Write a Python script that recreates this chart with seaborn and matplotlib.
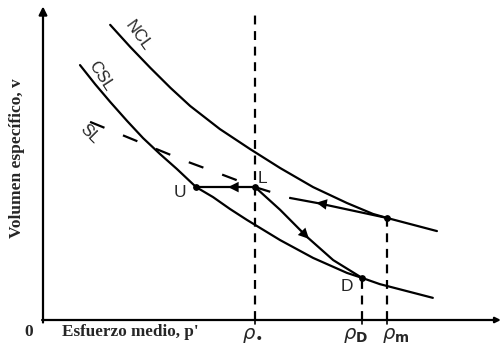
import matplotlib
matplotlib.use("Agg")
import matplotlib.pyplot as plt
import seaborn as sns

# Normal consolidation line (NCL)
ncl_p = [1.47, 1.91, 2.35, 2.79, 3.22, 3.87, 4.53, 5.19, 5.91, 6.65, 7.22, 7.53, 8.62]
ncl_v = [9.46, 8.75, 8.08, 7.44, 6.86, 6.12, 5.48, 4.87, 4.26, 3.75, 3.40, 3.27, 2.85]

# Critical state line (CSL)
csl_p = [0.81, 1.14, 1.47, 1.84, 2.19, 2.56, 2.93, 3.35, 3.72, 4.09, 4.46, 5.19, 5.91, 6.65, 6.98, 7.37, 8.53]
csl_v = [8.17, 7.56, 6.99, 6.38, 5.83, 5.32, 4.84, 4.26, 3.94, 3.56, 3.21, 2.56, 1.99, 1.51, 1.35, 1.15, 0.71]

# Swelling line (SL), dashed part
sl_p = [1.03, 1.73, 2.63, 3.11, 3.83, 4.64, 5.41]
sl_v = [6.35, 5.93, 5.39, 5.10, 4.71, 4.26, 3.91]

# Unloading path from the NCL back to L
unload_p = [5.41, 6.00, 7.53]
unload_v = [3.91, 3.75, 3.27]

# Drained path L -> D
ld_p = [4.64, 5.19, 5.78, 6.35, 6.98]
ld_v = [4.26, 3.53, 2.66, 1.92, 1.35]

# Undrained path L -> U
lu_p = [4.64, 3.35]
lu_v = [4.26, 4.26]

# Key states
p_o, p_D, p_m = 4.64, 6.98, 7.53
state_p = [3.35, 4.64, 6.98, 7.53]
state_v = [4.26, 4.26, 1.35, 3.27]

sns.set_theme(style="white")
plt.rcParams["font.family"] = ["Liberation Sans", "DejaVu Sans"]

fig = plt.figure(figsize=(5.02, 3.49), dpi=100)
ax = fig.add_axes([43 / 502, 1 - 320 / 349, 457 / 502, 312 / 349])
ax.set_xlim(0, 10)
ax.set_ylim(0, 10)
for s in ax.spines.values():
    s.set_visible(False)
ax.set_xticks([])
ax.set_yticks([])

lw = 1.6
kw = dict(sort=False, estimator=None, color="black", lw=lw, ax=ax, legend=False)
sns.lineplot(x=ncl_p, y=ncl_v, **kw)
sns.lineplot(x=csl_p, y=csl_v, **kw)
sns.lineplot(x=sl_p, y=sl_v, linestyle=(0, (7, 9)), **kw)
sns.lineplot(x=unload_p, y=unload_v, **kw)
sns.lineplot(x=ld_p, y=ld_v, **kw)
sns.lineplot(x=lu_p, y=lu_v, **kw)

# vertical dashed guides
for p, top in [(p_o, 9.95), (p_D, 1.35), (p_m, 3.27)]:
    sns.lineplot(x=[p, p], y=[0, top], sort=False, estimator=None, color="black",
                 lw=lw, linestyle=(0, (4, 3)), ax=ax, legend=False)

# state points
ax.scatter(state_p, state_v, s=15, color="black", zorder=5)


def head(x0, y0, x1, y1):
    ax.annotate("", xy=(x1, y1), xytext=(x0, y0),
                arrowprops=dict(arrowstyle="-|>", color="black", lw=0,
                                mutation_scale=19, shrinkA=0, shrinkB=0))


head(4.35, 4.26, 4.05, 4.26)
head(6.35, 3.67, 5.98, 3.76)
head(5.60, 2.93, 5.82, 2.60)

# axes with arrowheads
ax.annotate("", xy=(0, 10.05), xytext=(0, -0.08), annotation_clip=False,
            arrowprops=dict(arrowstyle="-|>", color="black", lw=1.6,
                            mutation_scale=12, shrinkA=0, shrinkB=0))
ax.annotate("", xy=(10.02, 0), xytext=(-0.02, 0), annotation_clip=False,
            arrowprops=dict(arrowstyle="-|>", color="black", lw=1.6,
                            mutation_scale=8, shrinkA=0, shrinkB=0))
for p in [p_o, p_D, p_m]:
    ax.plot([p, p], [-0.12, 0.12], color="black", lw=1.2, clip_on=False)

# curve labels
ax.text(2.08, 9.10, "NCL", rotation=-54, fontsize=12, ha="center", va="center")
ax.text(1.27, 7.82, "CSL", rotation=-57, fontsize=12, ha="center", va="center")
ax.text(1.01, 5.96, "SL", rotation=-45, fontsize=12, ha="center", va="center")
ax.text(3.00, 4.10, "U", fontsize=12.5, ha="center", va="center")
ax.text(4.81, 4.55, "L", fontsize=12.5, ha="center", va="center")
ax.text(6.65, 1.06, "D", fontsize=12.5, ha="center", va="center")

# axis labels
serif = ["Liberation Serif", "DejaVu Serif"]
ax.text(0.42, -0.40, "Esfuerzo medio, p'", family=serif, fontweight="bold",
        fontsize=12.3, ha="left", va="center", clip_on=False)
ax.text(-0.31, -0.40, "0", family=serif, fontweight="bold", fontsize=12.5,
        ha="center", va="center", clip_on=False)
ax.text(-0.57, 5.19, "Volumen específico, v", family=serif, fontweight="bold",
        fontsize=12.5, rotation=90, ha="center", va="center", clip_on=False)

for x, lab in [(4.35, r"$\rho_{\bullet}$"), (6.56, r"$\rho_{\mathbf{D}}$"),
               (7.42, r"$\rho_{\mathbf{m}}$")]:
    ax.text(x, -0.50, lab, fontsize=14, ha="left", va="center", clip_on=False)

fig.savefig("out.png", dpi=100)
